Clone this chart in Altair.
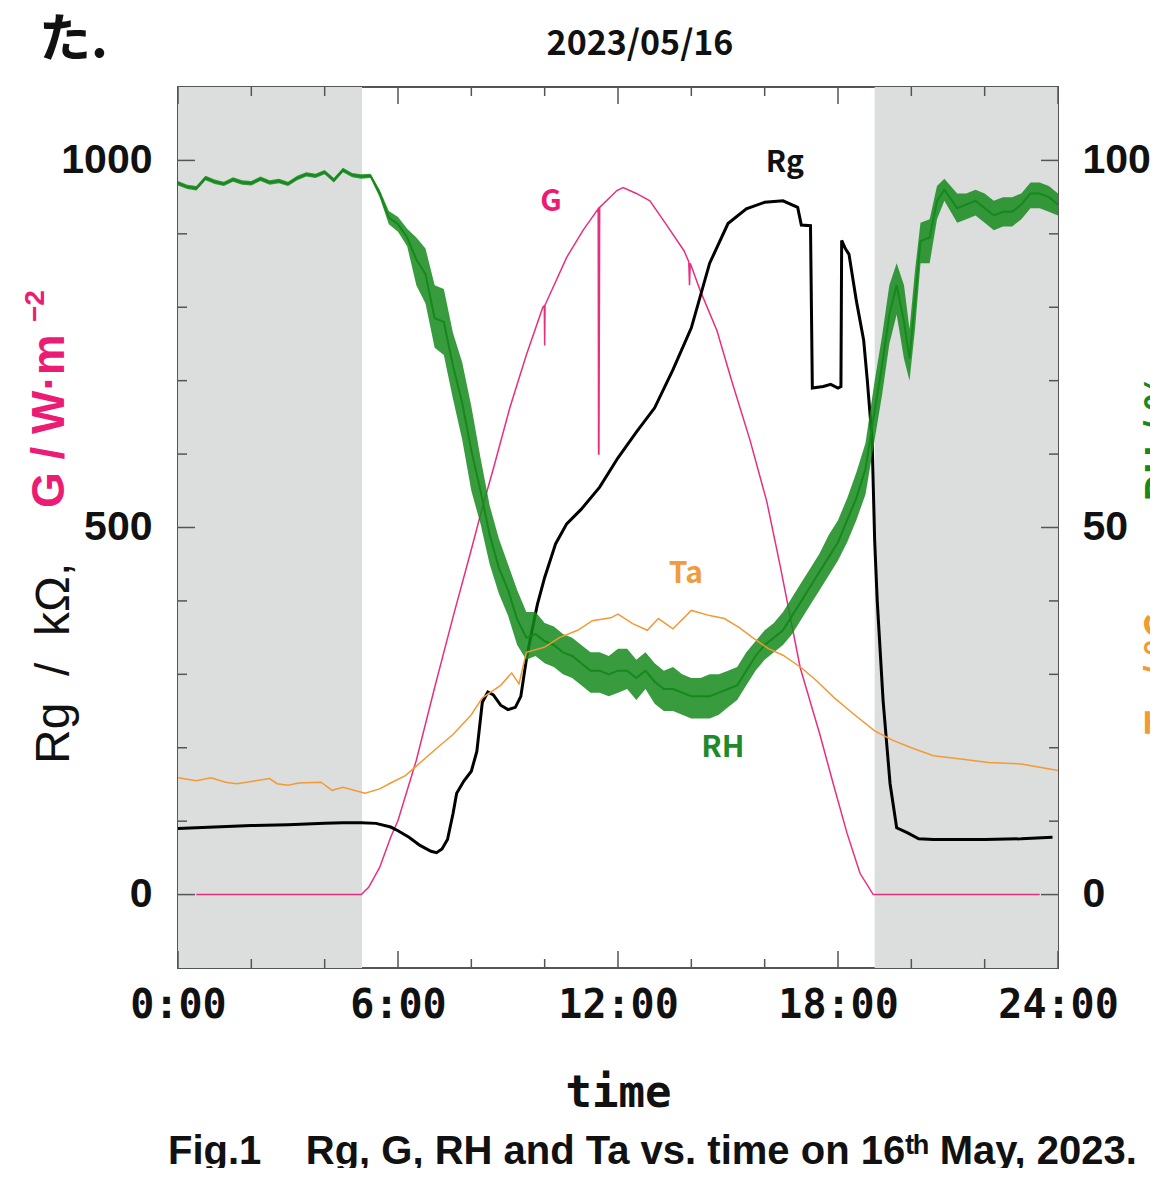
import altair as alt
import pandas as pd

# ---------------- data ----------------
# Rg (black, left axis, kOhm)
rg_t = [0.0, 0.5, 1.0, 2.0, 3.0, 4.0, 4.5, 5.0, 5.4, 5.8, 6.0, 6.3, 6.6, 6.9, 7.05, 7.2, 7.35, 7.5, 7.6, 7.8,
        8.0, 8.15, 8.3, 8.45, 8.6, 8.8, 9.0, 9.2, 9.35, 9.5, 9.6, 9.8, 10.0, 10.3, 10.6, 11.0, 11.5, 12.0,
        12.5, 13.0, 13.5, 14.0, 14.5, 15.0, 15.5, 16.0, 16.5, 16.9, 17.0, 17.25, 17.3, 17.6, 17.8, 18.0,
        18.08, 18.1, 18.2, 18.3, 18.5, 18.7, 18.8, 18.93, 19.0, 19.07, 19.23, 19.42, 19.6, 19.9, 20.2,
        20.6, 22.0, 23.0, 23.85]
rg_v = [90, 91, 92, 94, 95, 97, 98, 98, 97, 92, 87, 78, 67, 59, 57, 62, 75, 110, 138, 155,
        168, 195, 262, 276, 272, 258, 252, 255, 270, 320, 346, 395, 432, 478, 505, 525, 555, 595,
        630, 663, 715, 772, 860, 914, 934, 943, 945, 936, 912, 911, 690, 692, 695, 690,
        692, 891, 880, 872, 809, 755, 700, 619, 482, 400, 264, 151, 91, 84, 76,
        75, 75, 76, 78]

# G (pink, left axis, W m-2)
g_t = [0.5, 5.0, 5.2, 5.5, 5.8, 6.0, 6.5, 7.0, 7.5, 8.0, 8.3, 8.6, 9.05, 9.5, 9.95, 9.99, 10.0, 10.01,
       10.6, 11.05, 11.46, 11.47, 11.48, 11.5, 11.97, 12.14, 12.5, 12.87, 13.3, 13.8, 13.93, 13.95, 13.97,
       14.24, 14.7, 15.1, 15.6, 16.06, 16.43, 16.97, 17.5, 17.87, 18.25, 18.6, 18.96, 23.5]
g_v = [0, 0, 10, 37, 78, 101, 183, 282, 378, 470, 527, 580, 663, 735, 800, 802, 748, 803,
       868, 905, 934, 600, 600, 936, 959, 963, 955, 945, 914, 877, 862, 830, 860,
       823, 768, 700, 619, 535, 446, 309, 219, 151, 83, 29, 0, 0]

# Ta (orange, right axis, degC)
ta_t = [0.0, 0.5, 0.9, 1.3, 1.6, 2.0, 2.5, 2.7, 3.0, 3.3, 3.9, 4.2, 4.5, 4.8, 5.1, 5.5, 5.8, 6.2, 6.5,
        7.0, 7.5, 8.0, 8.3, 8.8, 9.1, 9.3, 9.5, 10.0, 10.4, 10.9, 11.3, 11.8, 12.0, 12.4, 12.8, 13.1,
        13.5, 14.0, 14.5, 14.9, 15.3, 15.7, 16.1, 16.5, 17.0, 17.4, 17.9, 18.4, 19.0, 19.5, 20.0,
        20.6, 21.3, 22.1, 23.0, 24.0]
ta_v = [15.9, 15.5, 15.9, 15.3, 15.1, 15.4, 15.8, 15.1, 14.9, 15.2, 15.3, 14.2, 14.6, 14.2, 13.8, 14.4,
        15.2, 16.2, 17.5, 19.7, 21.8, 24.5, 26.8, 28.5, 30.2, 28.7, 33.0, 33.7, 35.0, 36.0, 37.3, 37.7,
        38.2, 36.9, 36.0, 37.6, 36.2, 38.7, 38.0, 37.6, 36.4, 34.9, 33.5, 32.6, 30.9, 29.2, 26.8, 24.7,
        22.3, 21.0, 20.0, 18.9, 18.5, 18.0, 17.8, 16.9]

# RH (green, right axis, %): middle value and the spread of the noisy trace
rh_t = [0.00, 0.25, 0.50, 0.75, 1.00, 1.25, 1.50, 1.75, 2.00, 2.25, 2.50, 2.75, 3.00, 3.25, 3.50, 3.75,
        4.00, 4.25, 4.50, 4.75, 5.00, 5.25, 5.50, 5.75, 6.00, 6.25, 6.50, 6.75, 7.00, 7.25, 7.50, 7.75,
        8.00, 8.25, 8.50, 8.75, 9.00, 9.25, 9.50, 9.75, 10.00, 10.25, 10.50, 10.75, 11.00, 11.25, 11.50,
        11.75, 12.00, 12.25, 12.50, 12.75, 13.00, 13.25, 13.50, 13.75, 14.00, 14.25, 14.50, 14.75, 15.00,
        15.25, 15.50, 15.75, 16.00, 16.25, 16.50, 16.75, 17.00, 17.25, 17.50, 17.75, 18.00, 18.25, 18.50,
        18.75, 19.00, 19.20, 19.40, 19.60, 19.80, 19.95, 20.10, 20.25, 20.50, 20.70, 20.90, 21.25, 21.50,
        21.75, 22.00, 22.25, 22.50, 22.75, 23.00, 23.25, 23.50, 23.75, 24.00]
rh_mid = [96.9, 96.4, 96.2, 97.6, 97.1, 96.8, 97.4, 97.0, 96.9, 97.5, 97.0, 97.2, 96.8, 97.6, 98.1, 97.9,
          98.4, 97.3, 98.7, 98.0, 97.8, 97.9, 95.5, 92.2, 91.3, 89.5, 86.5, 84.5, 78.5, 78.0, 72.0, 67.0,
          60.5, 55.0, 49.0, 44.5, 41.5, 37.5, 35.0, 35.5, 34.5, 34.0, 33.0, 32.5, 31.5, 30.5, 30.5,
          30.0, 30.5, 30.5, 29.5, 30.5, 29.0, 28.0, 28.0, 27.5, 27.0, 27.0, 27.0, 27.5, 28.0,
          28.5, 30.5, 32.5, 34.0, 35.0, 36.0, 38.0, 40.0, 42.0, 44.0, 46.0, 48.0, 51.0, 54.0,
          58.0, 66.0, 72.0, 79.0, 83.0, 78.0, 73.0, 81.0, 89.0, 89.5, 94.5, 96.0, 93.5, 94.0,
          94.5, 93.5, 92.5, 93.0, 93.0, 94.0, 95.5, 95.5, 95.0, 94.0]
rh_lo = [96.6, 96.1, 95.9, 97.3, 96.8, 96.5, 97.1, 96.7, 96.6, 97.2, 96.7, 96.9, 96.5, 97.3, 97.8, 97.6,
         98.1, 97.0, 98.4, 97.7, 97.5, 97.6, 95.0, 91.3, 90.3, 88.3, 83.0, 80.5, 74.5, 73.5, 67.5, 62.0,
         55.0, 50.5, 45.0, 41.0, 38.0, 34.0, 32.0, 32.5, 31.5, 31.0, 30.0, 29.5, 28.5, 27.5, 27.5,
         27.0, 27.5, 28.0, 26.5, 28.0, 26.0, 25.0, 25.0, 24.5, 24.0, 24.0, 24.0, 24.5, 25.5,
         26.5, 28.5, 30.5, 32.0, 33.0, 34.0, 35.5, 37.5, 39.5, 41.5, 43.5, 45.5, 48.0, 51.0,
         54.5, 62.0, 68.0, 75.0, 79.0, 73.0, 70.0, 77.0, 86.0, 86.0, 92.0, 94.5, 91.5, 92.0,
         92.5, 91.5, 90.5, 91.0, 91.0, 92.0, 93.5, 93.5, 93.0, 92.5]
rh_hi = [97.2, 96.7, 96.5, 97.9, 97.4, 97.1, 97.7, 97.3, 97.2, 97.8, 97.3, 97.5, 97.1, 97.9, 98.4, 98.2,
         98.7, 97.6, 99.0, 98.3, 98.1, 98.2, 96.0, 93.1, 92.3, 90.7, 89.5, 88.0, 83.0, 82.5, 76.5, 72.5,
         66.5, 59.5, 53.0, 48.5, 45.0, 41.5, 38.5, 38.5, 37.0, 36.5, 35.5, 35.0, 34.0, 33.0, 33.0,
         32.5, 33.5, 33.5, 32.0, 33.0, 31.5, 30.5, 31.0, 30.0, 29.5, 29.5, 30.0, 30.0, 30.5,
         31.0, 33.0, 34.5, 36.0, 37.0, 38.5, 40.5, 42.5, 44.5, 46.5, 49.0, 51.0, 54.0, 57.5,
         61.5, 70.0, 76.0, 83.0, 86.0, 83.0, 77.0, 85.0, 91.5, 92.0, 96.5, 97.5, 95.5, 95.5,
         96.0, 95.5, 94.5, 95.0, 95.0, 95.5, 97.0, 97.0, 96.5, 95.5]

# night shading (hours)
night_start = [0.0, 19.0]
night_end = [5.02, 24.0]

# tick positions
x_major = [0, 6, 12, 18, 24]
x_minor = [2, 4, 8, 10, 14, 16, 20, 22]
y_major = [0, 500, 1000]
y_minor = [100, 200, 300, 400, 600, 700, 800, 900]

# series labels
lab_left = pd.DataFrame({"t": [10.17, 16.55], "v": [944, 996], "txt": ["G", "Rg"],
                         "col": ["#ec1c74", "#111111"]})
lab_right = pd.DataFrame({"t": [13.85, 14.86], "v": [43.6, 19.9], "txt": ["Ta", "RH"],
                          "col": ["#f19b3c", "#1f8a2a"]})

# ---------------- chart ----------------
W, H = 880, 881
PINK, BLACK, ORANGE, GREEN = "#e6307f", "#000000", "#f39a35", "#15891c"
LDOM = [-100, 1100]
RDOM = [-10, 110]
NB = "\u00a0"

xaxis = alt.Axis(values=x_major, labelExpr="datum.value + ':00'", title="time",
                 ticks=False, domain=False, grid=False, labelFlush=False, labelOverlap=False,
                 labelFont="DejaVu Sans Mono", labelFontSize=40, labelFontWeight="bold",
                 labelColor="#111", labelPadding=17,
                 titleFont="DejaVu Sans Mono", titleFontSize=44, titleFontWeight="bold",
                 titleColor="#111", titlePadding=46)
xs = alt.Scale(domain=[0, 24], nice=False, zero=False)
lys = alt.Scale(domain=LDOM, nice=False, zero=False)
rys = alt.Scale(domain=RDOM, nice=False, zero=False)
laxis = alt.Axis(values=y_major, format="d", title=None, ticks=False, domain=False, grid=False,
                 labelFont="Liberation Sans", labelFontSize=41, labelFontWeight="bold",
                 labelColor="#111", labelPadding=26)
raxis = alt.Axis(values=[0, 50, 100], format="d", title=None, orient="right", ticks=False,
                 domain=False, grid=False, labelFont="Liberation Sans", labelFontSize=41,
                 labelFontWeight="bold", labelColor="#111", labelPadding=24)

X = lambda f: alt.X(f, type="quantitative", scale=xs, axis=xaxis)

night = alt.Chart(pd.DataFrame({"s": night_start, "e": night_end})).mark_rect(
    color="#dcdddd").encode(x=X("s"), x2="e", y=alt.value(0), y2=alt.value(H))

df_rg = pd.DataFrame({"t": rg_t, "v": rg_v})
df_g = pd.DataFrame({"t": g_t, "v": g_v})
df_ta = pd.DataFrame({"t": ta_t, "v": ta_v})
df_rh = pd.DataFrame({"t": rh_t, "m": rh_mid, "lo": rh_lo, "hi": rh_hi})

LY = lambda f: alt.Y(f, type="quantitative", scale=lys, axis=laxis)
RY = lambda f: alt.Y(f, type="quantitative", scale=rys, axis=raxis)

g_line = alt.Chart(df_g).mark_line(color=PINK, strokeWidth=1.5).encode(x=X("t"), y=LY("v"))
rg_line = alt.Chart(df_rg).mark_line(color=BLACK, strokeWidth=3).encode(x=X("t"), y=LY("v"))

TC = "#555"
ytick_left = alt.layer(
    alt.Chart(pd.DataFrame({"v": y_major})).mark_rule(color=TC, strokeWidth=1.5).encode(
        y=LY("v"), x=alt.value(0), x2=alt.value(17)),
    alt.Chart(pd.DataFrame({"v": y_minor})).mark_rule(color=TC, strokeWidth=1.5).encode(
        y=LY("v"), x=alt.value(0), x2=alt.value(9)),
    alt.Chart(pd.DataFrame({"v": y_major})).mark_rule(color=TC, strokeWidth=1.5).encode(
        y=LY("v"), x=alt.value(W - 17), x2=alt.value(W)),
    alt.Chart(pd.DataFrame({"v": y_minor})).mark_rule(color=TC, strokeWidth=1.5).encode(
        y=LY("v"), x=alt.value(W - 9), x2=alt.value(W)),
)
xticks = alt.layer(
    alt.Chart(pd.DataFrame({"t": x_major})).mark_rule(color=TC, strokeWidth=1.5).encode(
        x=X("t"), y=alt.value(H - 17), y2=alt.value(H)),
    alt.Chart(pd.DataFrame({"t": x_minor})).mark_rule(color=TC, strokeWidth=1.5).encode(
        x=X("t"), y=alt.value(H - 9), y2=alt.value(H)),
    alt.Chart(pd.DataFrame({"t": x_major})).mark_rule(color=TC, strokeWidth=1.5).encode(
        x=X("t"), y=alt.value(0), y2=alt.value(17)),
    alt.Chart(pd.DataFrame({"t": x_minor})).mark_rule(color=TC, strokeWidth=1.5).encode(
        x=X("t"), y=alt.value(0), y2=alt.value(9)),
)

lab_l = alt.Chart(lab_left).mark_text(font="Noto Sans CJK JP", fontWeight="bold", fontSize=30,
                                      align="center", baseline="middle").encode(
    x=X("t"), y=LY("v"), text="txt:N", color=alt.Color("col:N", scale=None))

left_group = alt.layer(night, g_line, rg_line, ytick_left, xticks, lab_l)

rh_band = alt.Chart(df_rh).mark_area(color=GREEN, opacity=0.85).encode(
    x=X("t"), y=RY("lo"), y2="hi")
rh_line = alt.Chart(df_rh).mark_line(color=GREEN, strokeWidth=2).encode(x=X("t"), y=RY("m"))
ta_line = alt.Chart(df_ta).mark_line(color=ORANGE, strokeWidth=1.5).encode(x=X("t"), y=RY("v"))
lab_r = alt.Chart(lab_right).mark_text(font="Noto Sans CJK JP", fontWeight="bold", fontSize=30,
                                       align="center", baseline="middle").encode(
    x=X("t"), y=RY("v"), text="txt:N", color=alt.Color("col:N", scale=None))

right_group = alt.layer(rh_band, rh_line, ta_line, lab_r)


# annotations (titles) placed relative to the plot area
def txt(s, x, y, size, color="#111", font="Liberation Sans", weight="normal", angle=0,
        align="center", baseline="middle"):
    return alt.Chart(pd.DataFrame({"s": [s]})).mark_text(
        fontSize=size, color=color, font=font, fontWeight=weight, angle=angle,
        align=align, baseline=baseline).encode(text="s:N", x=alt.value(x), y=alt.value(y))


annos = alt.layer(
    txt("2023/05/16", 462, -42, 34, font="Noto Sans CJK JP", weight="bold"),
    txt("た.", -139, -46, 52, font="Noto Sans CJK JP", weight="bold", align="left"),
    txt("Rg" + NB + NB + "/" + NB + NB + "kΩ,", -123, 677, 48, angle=270, align="left"),
    txt("G" + NB + "/" + NB + "W·m", -128, 421, 46, color="#ec1c74", weight="bold",
        angle=270, align="left"),
    txt("−2", -142, 235, 28, color="#ec1c74", weight="bold", angle=270, align="left"),
    txt("Ta" + NB + "/" + NB + "°C,", 965, 648, 40, color=ORANGE, font="Noto Sans CJK JP",
        weight="bold", angle=270, align="left", baseline="top"),
    txt("RH" + NB + "/" + NB + "%", 965, 415, 40, color=GREEN, font="Noto Sans CJK JP",
        weight="bold", angle=270, align="left", baseline="top"),
    txt("Fig.1" + NB * 4 + "Rg, G, RH and Ta vs. time on 16ᵗʰ May, 2023.", -10, 1077, 40,
        weight="bold", align="left", baseline="alphabetic"),
)

chart = alt.layer(left_group, right_group, annos).resolve_scale(y="independent").properties(
    width=W, height=H,
    autosize=alt.AutoSizeParams(type="none"),
    padding={"left": 170, "top": 79, "right": 92, "bottom": 200},
).configure_view(stroke="#555", strokeWidth=2)

chart.save("out.html", embed_options={"renderer": "svg", "actions": False})
